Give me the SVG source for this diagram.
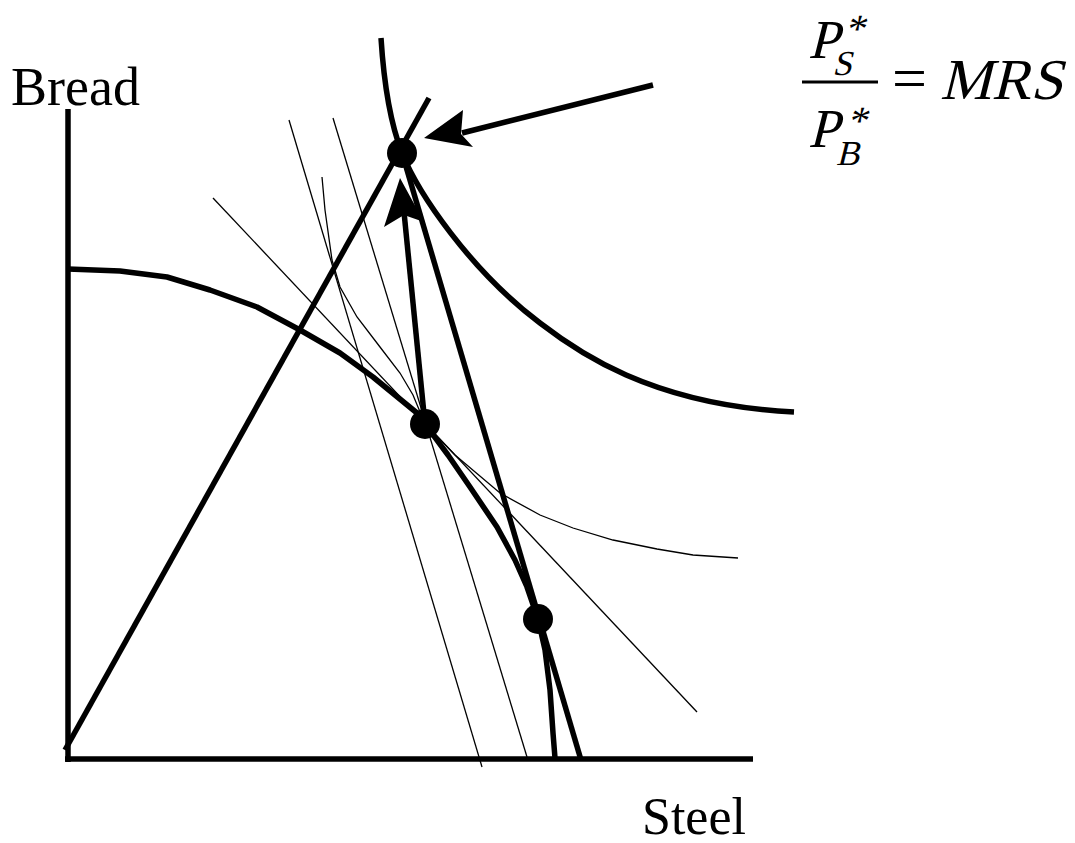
<svg xmlns="http://www.w3.org/2000/svg" width="1075" height="843" viewBox="0 0 1075 843">
<style>
.thick{fill:none;stroke:#000;stroke-width:5.5;stroke-linejoin:round}
.thin{fill:none;stroke:#000;stroke-width:1.3}
.dot{fill:#000}
.lbl{font-family:"Liberation Serif","Times New Roman",serif;fill:#000}
</style>
<rect width="1075" height="843" fill="#fff"/>
<g id="axes">
<line class="thick" x1="68" y1="109" x2="68" y2="762"/>
<line class="thick" x1="65" y1="759" x2="753" y2="759"/>
</g>
<g id="thin-lines">
<line class="thin" x1="213" y1="198" x2="697" y2="712"/>
<line class="thin" x1="289" y1="120" x2="482" y2="767"/>
<line class="thin" x1="333" y1="118" x2="527" y2="757"/>
<path class="thin" d="M322,177 L325,210 L332,260 L340,287 L357,317 L380,347 L400,373 L413,395 L425,424 L455,455 L500,493 L540,515 L573,528 L613,540 L657,549 L693,555 L738,558"/>
</g>
<g id="curves">
<path class="thick" d="M381,38 C384,85 391,125 402,153 C418,193 470,270 540,323 C575,350 650,405 794,412"/>
<path class="thick" d="M68,269 L120,271 L167,277 L210,290 L257,307 L300,330 L340,353 L373,377 L417,413 L425,424 L448,455 L470,487 L497,527 L515,560 L527,587 L538,619 L545,650 L550,690 L553,733 L555,758"/>
<line class="thick" x1="65" y1="750" x2="429" y2="98"/>
<line class="thick" x1="402" y1="153" x2="581" y2="760"/>
</g>
<g id="connectors">
<line class="thick" x1="425" y1="424" x2="404" y2="212"/>
<polygon points="400,178 384,227 404,215 424,222"/>
<line class="thick" x1="653" y1="85" x2="462" y2="133"/>
<polygon points="424,138 463,110 461,134 473,147"/>
</g>
<g id="dots">
<circle class="dot" cx="402" cy="153" r="15"/>
<circle class="dot" cx="425" cy="424" r="15"/>
<circle class="dot" cx="538" cy="619" r="15"/>
</g>
<g id="labels">
<text class="lbl" x="11" y="105" font-size="54">Bread</text>
<text class="lbl" x="642" y="834" font-size="52">Steel</text>
</g>
<g id="formula">
<text class="lbl" transform="translate(808,58) skewX(-14)" font-size="55">P<tspan font-size="35" dx="-2" dy="17">S</tspan><tspan font-size="40" dx="-16" dy="-33">*</tspan></text>
<line x1="802" y1="82" x2="878" y2="82" stroke="#000" stroke-width="3"/>
<text class="lbl" transform="translate(808,147) skewX(-14)" font-size="55">P<tspan font-size="35" dx="2" dy="18">B</tspan><tspan font-size="40" dx="-21" dy="-31">*</tspan></text>
<text class="lbl" x="892" y="99" font-size="62">=</text>
<text class="lbl" transform="translate(940,99) skewX(-14)" font-size="58">MRS</text>
</g>
</svg>
